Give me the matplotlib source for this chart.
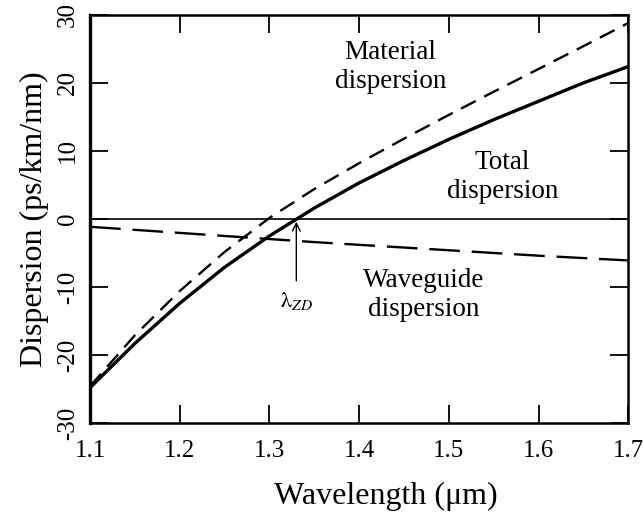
import matplotlib

matplotlib.use("Agg")
import matplotlib.pyplot as plt

plt.rcParams["font.family"] = ["Liberation Serif", "DejaVu Serif"]
plt.rcParams["mathtext.fontset"] = "stix"

# values (ps/km/nm vs wavelength in um)
wavelength = [1.10, 1.15, 1.20, 1.25, 1.30, 1.35, 1.40, 1.45, 1.50, 1.55, 1.60, 1.65, 1.70]
material = [-24.6, -17.1, -10.6, -4.85, 0.15, 4.4, 8.2, 11.8, 15.3, 18.7, 22.05, 25.4, 28.8]
total = [-24.8, -18.3, -12.4, -7.1, -2.5, 1.6, 5.3, 8.6, 11.7, 14.6, 17.3, 20.0, 22.4]
waveguide = [-1.15, -1.6, -2.05, -2.5, -2.95, -3.4, -3.8, -4.2, -4.6, -5.0, -5.4, -5.75, -6.1]

lambda_zd = 1.33
x_ticks = [1.1, 1.2, 1.3, 1.4, 1.5, 1.6, 1.7]
y_ticks = [-30, -20, -10, 0, 10, 20, 30]

fig = plt.figure(figsize=(6.43, 5.14), dpi=100)
ax = fig.add_axes([0.140, 0.177, 0.837, 0.794])

ax.axhline(0.0, color="black", lw=1.2)
ax.plot(wavelength, material, color="black", lw=1.7, ls=(0, (7, 4)))
ax.plot(wavelength, total, color="black", lw=2.4)
ax.plot(wavelength, waveguide, color="black", lw=1.7, ls=(0, (13, 5)))

# zero-dispersion wavelength marker
ax.annotate(
    "", xy=(lambda_zd, 0.0), xytext=(lambda_zd, -9.5),
    arrowprops=dict(arrowstyle="->", color="black", lw=1.0, mutation_scale=14),
)
ax.text(lambda_zd, -12.0, r"$\mathrm{\lambda}_{ZD}$", ha="center", va="center", fontsize=16)

label_kw = dict(ha="center", va="center", fontsize=19.5, linespacing=1.2)
ax.text(1.435, 22.4, "Material\ndispersion", **label_kw)
ax.text(1.56, 6.2, "Total\ndispersion", **label_kw)
ax.text(1.472, -11.2, "Waveguide\ndispersion", **label_kw)

ax.set_xlim(1.1, 1.7)
ax.set_ylim(-30, 30)
ax.set_xticks(x_ticks)
ax.set_xticklabels([f"{t:.1f}" for t in x_ticks])
ax.set_yticks(y_ticks)
ax.set_yticklabels([str(t) for t in y_ticks], rotation=90, va="center")

ax.tick_params(direction="in", length=13, width=1.3, top=True, right=True, labelsize=18)
ax.tick_params(axis="x", pad=12)
ax.tick_params(axis="y", pad=8)
for spine in ax.spines.values():
    spine.set_linewidth(1.8)
ax.spines["left"].set_linewidth(2.4)

ax.set_xlabel("Wavelength (μm)", fontsize=23)
ax.xaxis.set_label_coords(0.55, -0.145)
ax.set_ylabel("Dispersion (ps/km/nm)", fontsize=23, labelpad=6)

fig.savefig("out.png", dpi=100)
